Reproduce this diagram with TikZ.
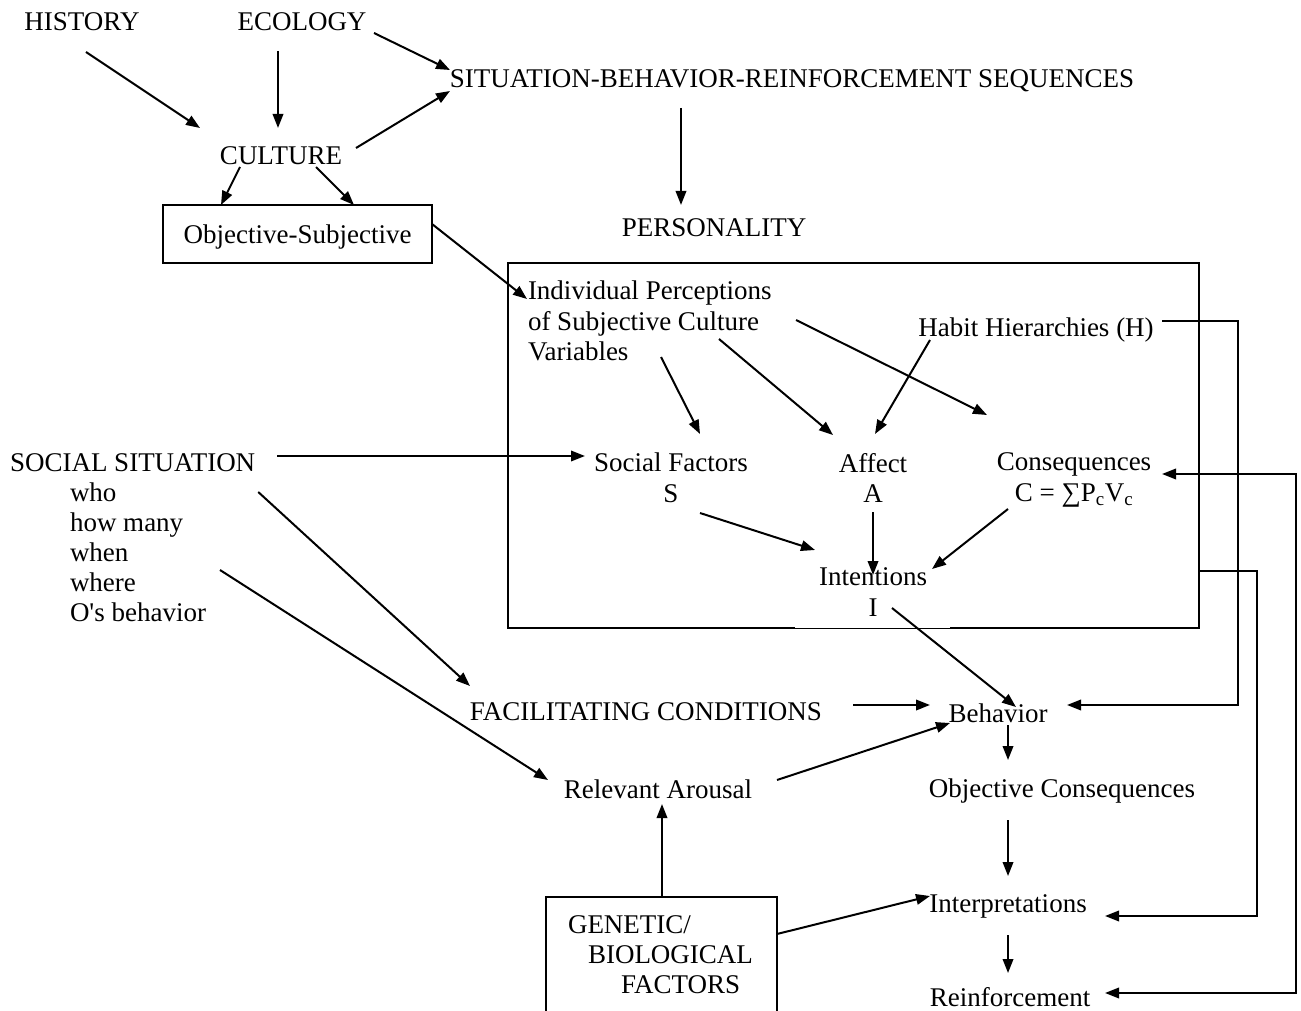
\documentclass[tikz,border=0pt]{standalone}
\usepackage{fontspec}
\setmainfont{Liberation Serif}[Ligatures=TeXOff]
\usetikzlibrary{arrows.meta}
\begin{document}
\begin{tikzpicture}[x=1pt,y=-1pt,
  every node/.style={inner sep=0pt,outer sep=0pt,font=\fontsize{27}{30.5}\selectfont},
  lbl/.style={text height=18.5pt,text depth=0pt},
  blkl/.style={anchor=north west,align=left},
  blkc/.style={anchor=north,align=center},
  link/.style={line width=2pt,-{Triangle[length=14pt,width=10.5pt]}},
  twoway/.style={line width=2pt,{Triangle[length=14pt,width=10.5pt]}-{Triangle[length=14pt,width=10.5pt]}},
  frame/.style={line width=2pt},
  thinframe/.style={line width=1pt}]
\useasboundingbox (0,0) rectangle (1301,1011);

% nodes
\node[lbl] (hist) at (82,21) {HISTORY};
\node[lbl] (eco) at (302,21) {ECOLOGY};
\node[lbl] (sbr) at (792,78) {SITUATION-BEHAVIOR-REINFORCEMENT SEQUENCES};
\node[lbl] (cult) at (281,155) {CULTURE};
\node[lbl,draw,line width=2pt,minimum width=269pt,minimum height=58pt] (objsub) at (297.5,234) {Objective-Subjective};
\node[lbl] (pers) at (714,227) {PERSONALITY};
\node[minimum width=691pt,minimum height=365pt] (pbox) at (853.5,445.5) {};
\node[blkl] (indiv) at (528,281) {Individual Perceptions\\of Subjective Culture\\Variables};
\node[lbl] (habit) at (1036,327) {Habit Hierarchies (H)};
\node[blkc] (socf) at (671,453) {Social Factors\\S};
\node[blkc] (aff) at (873,453) {Affect\\A};
\node[blkc] (cons) at (1074,453) {Consequences\\C = ∑P\textsubscript{c}V\textsubscript{c}};
\node[blkc] (intent) at (873,568) {Intentions\\I};
\node[lbl,anchor=west] (socsit) at (10,462) {SOCIAL SITUATION};
\node[blkl,font=\fontsize{27}{30}\selectfont] (socitems) at (70,483) {who\\how many\\when\\where\\O's behavior};
\node[lbl] (facil) at (646,711) {FACILITATING CONDITIONS};
\node[lbl] (behav) at (998,713) {Behavior};
\node[lbl] (arous) at (658,789) {Relevant Arousal};
\node[lbl] (objc) at (1062,788) {Objective Consequences};
\node[lbl] (interp) at (1008,903) {Interpretations};
\node[lbl] (reinf) at (1010,997) {Reinforcement};
\node[minimum width=231pt,minimum height=114pt] (gen) at (661.5,954) {};
\node[blkl,font=\fontsize{27}{30}\selectfont] (gentext) at (568,916) {GENETIC/\\\hspace*{20pt}BIOLOGICAL\\\hspace*{53pt}FACTORS};

% frames
\draw[frame] ([xshift=287pt]pbox.south west) -- (pbox.south west) |- (pbox.north east) |- ([xshift=-249pt]pbox.south east);
\draw[thinframe] ([xshift=287pt]pbox.south west) -- ([xshift=-249pt]pbox.south east);
\draw[frame] (gen.south west) |- (gen.north east) -- (gen.south east);

% connectors
\draw[link] ([shift={(4,31)}]hist.center) -- ([shift={(-81,-27)}]cult.center);
\draw[link] ([shift={(-24,30)}]eco.center) -- ([shift={(-3,-27)}]cult.center);
\draw[link] ([shift={(72,12)}]eco.center) -- ([shift={(-342,-8)}]sbr.center);
\draw[link] ([shift={(75,-7)}]cult.center) -- ([shift={(-342,13)}]sbr.center);
\draw[link] ([shift={(-41,12)}]cult.center) -- ([shift={(-76.5,0)}]objsub.north);
\draw[link] ([shift={(35,12)}]cult.center) -- ([shift={(56.5,0)}]objsub.north);
\draw[link] ([shift={(0,-10)}]objsub.east) -- ([shift={(-1,18)}]indiv.north west);
\draw[link] ([shift={(-111,30)}]sbr.center) -- ([shift={(-33,-22)}]pers.center);
\draw[link] ([shift={(133,76)}]indiv.north west) -- ([shift={(29,-19)}]socf.north);
\draw[link] ([shift={(191,58)}]indiv.north west) -- ([shift={(-40,-18)}]aff.north);
\draw[link] ([shift={(268,39)}]indiv.north west) -- ([shift={(-87,-38)}]cons.north);
\draw[link] ([shift={(-106,13)}]habit.center) -- ([shift={(2,-19)}]aff.north);
\draw[link] ([shift={(22,-6)}]socsit.east) -- ([shift={(-86,3)}]socf.north);
\draw[link] ([shift={(3,30)}]socsit.east) -- ([shift={(-176,-25)}]facil.center);
\draw[link] ([shift={(150,87)}]socitems.north west) -- ([shift={(-110,-9)}]arous.center);
\draw[link] ([shift={(29,60)}]socf.north) -- ([shift={(-58,-18)}]intent.north);
\draw[link] ([shift={(0,59)}]aff.north) -- ([shift={(0,7)}]intent.north);
\draw[link] ([shift={(-66,56)}]cons.north) -- ([shift={(59,1)}]intent.north);
\draw[link] ([shift={(19,40)}]intent.north) -- ([shift={(18,-6)}]behav.center);
\draw[link] ([shift={(207,-6)}]facil.center) -- ([shift={(-68,-8)}]behav.center);
\draw[link] ([shift={(119,-9)}]arous.center) -- ([shift={(-48,10)}]behav.center);
\draw[link] ([shift={(10,12)}]behav.center) -- ([shift={(-54,-28)}]objc.center);
\draw[link] ([shift={(-54,32)}]objc.center) -- ([shift={(0,-27)}]interp.center);
\draw[link] ([shift={(0.5,0)}]gen.north) -- ([shift={(4,15)}]arous.center);
\draw[link] ([shift={(0,-20)}]gen.east) -- ([shift={(-78,-7)}]interp.center);
\draw[link] ([shift={(0,32)}]interp.center) -- ([shift={(-2,-24)}]reinf.center);

% feedback loops
\draw[link] ([shift={(126,-6)}]habit.center) -- ++(76,0) |- ([shift={(69,-8)}]behav.center);
\draw[link] ([shift={(0,125.5)}]pbox.east) -- ++(58,0) |- ([shift={(97,13)}]interp.center);
\draw[twoway] ([shift={(88,21)}]cons.north) -- ++(134,0) |- ([shift={(95,-4)}]reinf.center);
\end{tikzpicture}
\end{document}
